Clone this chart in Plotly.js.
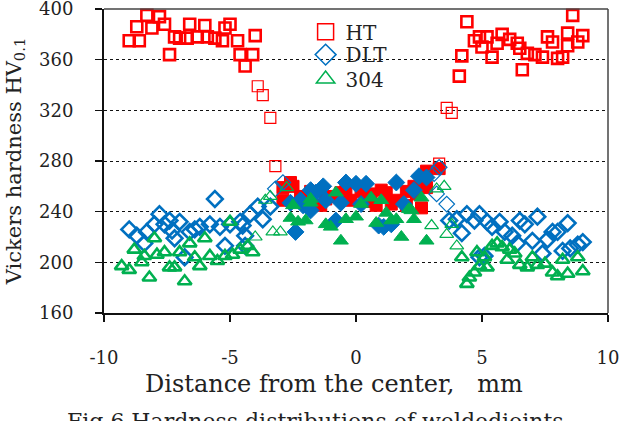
<!DOCTYPE html>
<html>
<head>
<meta charset="utf-8">
<script src="https://cdn.plot.ly/plotly-3.0.1.min.js"></script>
<style>html,body{margin:0;padding:0;background:#fff;}#chart{width:621px;height:421px;}</style>
</head>
<body>
<div id="chart"></div>
<script>
// ---- data ----
const seriesNames = ["HT", "DLT", "304"];

// HT: base metal (open squares)
const htOpenX = [-9.0,-8.7,-8.6,-8.3,-8.1,-7.8,-7.6,-7.4,-7.2,-7.0,-6.7,-6.6,-6.3,-6.0,-5.9,-5.6,-5.3,-5.2,-5.0,-4.7,-4.6,-4.4,-4.1,-4.0,
                 4.1,4.2,4.4,4.7,4.9,5.0,5.2,5.4,5.6,5.8,6.1,6.4,6.5,6.6,6.8,7.1,7.4,7.6,7.8,8.0,8.2,8.4,8.4,8.6,8.8,9.0];
const htOpenY = [375,386,375,395,385,394,388,364,378,377,377,388,378,387,378,377,375,385,388,375,364,355,364,379,
                 347,363,390,375,378,370,378,362,373,380,376,373,369,352,365,364,362,378,374,361,362,371,381,395,374,379];
// HT: HAZ (thin open squares)
const htHazX = [-3.9,-3.7,-3.4,-3.2,3.3,3.6,3.8];
const htHazY = [339,332,314,276,278,322,318];
// HT: weld metal (filled squares)
const htWeldX = [-2.9,-2.6,-2.5,-2.9,-2.2,-2.0,-1.8,-1.4,-1.2,-1.0,-0.6,-0.4,-0.2,0.2,0.4,0.6,0.8,1.0,1.2,1.4,1.6,2.0,2.0,2.3,2.4,2.6,2.8,2.8,3.3];
const htWeldY = [259,263,260,249,252,249,256,245,250,252,255,258,249,256,248,254,245,257,255,246,249,245,256,260,254,243,259,272,274];

// DLT
const dltOpenX = [-9.0,-8.7,-8.4,-8.3,-8.0,-7.8,-7.6,-7.4,-7.3,-7.2,-7.0,-6.8,-6.6,-6.4,-6.2,-5.8,-5.6,-5.4,-5.2,-5.0,-4.6,-4.5,-4.4,-4.4,-4.2,-3.9,-3.7,-3.4,
                  3.7,4.0,4.2,4.4,4.7,4.9,5.2,5.4,5.7,5.9,6.2,6.4,6.5,6.7,7.2,7.0,7.4,7.6,7.8,8.0,8.4,8.2,8.5,8.8,9.0,4.9,5.1];
const dltOpenY = [226,221,215,224,230,238,230,233,225,219,232,204,224,226,228,230,250,228,213,230,232,229,221,213,238,244,234,244,
                  233,234,223,238,233,238,232,228,232,224,221,215,233,230,236,217,207,218,224,224,231,209,211,214,216,204,205];
const dltHazX = [-3.2,-2.9,3.1,3.2,3.3,3.6];
const dltHazY = [258,263,270,254,275,246];
const dltWeldX = [-2.6,-2.4,-2.2,-2.1,-1.8,-1.8,-1.6,-1.3,-1.2,-0.8,-0.6,-0.4,0.0,0.2,0.4,0.9,1.1,1.4,1.6,1.9,2.3,2.5,2.8];
const dltWeldY = [247,224,249,245,241,257,255,260,249,233,247,263,262,246,262,229,228,230,263,246,257,268,267];

// 304
const s304OpenX = [-9.3,-9.0,-8.8,-8.5,-8.4,-8.2,-8.0,-7.9,-7.6,-7.4,-7.2,-7.0,-6.8,-6.6,-6.4,-6.2,-6.0,-5.8,-5.5,-5.2,-5.0,-4.9,-4.6,-4.3,-4.1,
                   4.2,4.4,4.5,4.7,4.8,4.9,5.1,5.2,5.4,5.6,5.8,6.0,6.1,6.3,6.5,6.8,7.0,7.2,7.5,7.8,8.0,8.2,8.4,8.8,9.0];
const s304OpenY = [197,194,210,200,205,188,219,206,208,196,196,208,185,215,204,197,219,205,201,205,232,206,210,213,208,
                   204,183,188,192,208,197,204,196,213,215,212,202,210,207,198,196,204,198,199,192,189,202,191,204,193];
const s304HazX = [-4.0,-3.6,-3.4,-3.3,-3.0,-2.75,3.0,3.2,3.5,3.6,3.8,4.0];
const s304HazY = [220,249,252,224,224,259,229,258,260,222,230,213];
const s304WeldX = [-2.6,-2.5,-2.3,-2.0,-1.8,-1.8,-1.2,-1.0,-0.8,-0.6,-0.4,0.0,0.2,0.6,0.8,1.0,1.2,1.4,1.6,1.8,2.1,2.2,2.3,2.6,2.8];
const s304WeldY = [235,245,232,233,250,247,230,228,255,217,234,236,246,251,231,249,239,233,234,220,242,241,234,251,217];

const xTicks = [-10,-5,0,5,10];
const yTicks = [160,200,240,280,320,360,400];
const xTitle = "Distance from the center,\u00a0\u00a0\u00a0mm";
const yTitle = "Vickers hardness HV<sub>0.1</sub>";
const caption = "Fig.6 Hardness distributions of weldedjoints";

// ---- styles ----
const RED = "#FF0000", BLUE = "#0070C0", GREEN = "#00B050";
const FONT = "DejaVu Serif, Liberation Serif, serif";
const TXT = "#222";

function pts(name, x, y, symbol, color, lw, size, legendId) {
  const t = {
    type: "scatter", mode: "markers", name: name, x: x, y: y,
    showlegend: !!legendId, cliponaxis: false,
    marker: { symbol: symbol, size: size, color: color, line: { color: color, width: lw } },
    hoverinfo: "x+y"
  };
  if (legendId) t.legend = legendId;
  return t;
}

const traces = [
  pts(seriesNames[0], htOpenX, htOpenY, "square-open", RED, 2.6, 11),
  pts(seriesNames[0], htHazX, htHazY, "square-open", RED, 1.2, 11),
  pts(seriesNames[0], htWeldX, htWeldY, "square", RED, 1, 12),
  pts(seriesNames[1], dltOpenX, dltOpenY, "diamond-open", BLUE, 2.6, 12),
  pts(seriesNames[1], dltHazX, dltHazY, "diamond-open", BLUE, 1.2, 12),
  pts(seriesNames[1], dltWeldX, dltWeldY, "diamond", BLUE, 1, 13),
  pts(seriesNames[2], s304OpenX, s304OpenY, "triangle-up-open", GREEN, 2.6, 12),
  pts(seriesNames[2], s304HazX, s304HazY, "triangle-up-open", GREEN, 1.2, 12),
  pts(seriesNames[2], s304WeldX, s304WeldY, "triangle-up", GREEN, 1, 13),
  // legend entries (one small legend each, to match the tight spacing)
  pts(seriesNames[0], [null], [null], "square-open", RED, 1.5, 16, "legend"),
  pts(seriesNames[1], [null], [null], "diamond-open", BLUE, 1.5, 16, "legend2"),
  pts(seriesNames[2], [null], [null], "triangle-up-open", GREEN, 1.5, 16, "legend3")
];

function leg(yPaper) {
  return { x: 0.40, y: yPaper, xanchor: "left", yanchor: "middle", bgcolor: "rgba(0,0,0,0)",
           font: { family: FONT, size: 20, color: TXT }, itemwidth: 30, borderwidth: 0 };
}

const layout = {
  width: 621, height: 421,
  margin: { l: 104, r: 13, t: 9, b: 108 },
  paper_bgcolor: "#fff", plot_bgcolor: "#fff",
  font: { family: FONT, size: 18, color: TXT },
  showlegend: true,
  legend: leg(0.925),
  legend2: leg(0.85),
  legend3: leg(0.77),
  xaxis: {
    range: [-10.001, 10.001], tickvals: xTicks, ticktext: xTicks.map(String),
    showgrid: false, zeroline: false,
    showline: true, linecolor: "#111", linewidth: 2,
    ticks: "outside", ticklen: 7, tickwidth: 1.5, tickcolor: "#111",
    ticklabelstandoff: 20, ticklabeloverflow: "allow",
    tickfont: { family: FONT, size: 18, color: TXT }
  },
  yaxis: {
    range: [159.99, 400.01], tickvals: yTicks, ticktext: yTicks.map(String),
    showgrid: true, gridcolor: "#111", gridwidth: 1, griddash: "dot",
    zeroline: false, showline: true, linecolor: "#111", linewidth: 2,
    ticks: "outside", ticklen: 7, tickwidth: 1.5, tickcolor: "#111",
    ticklabelstandoff: 18, ticklabeloverflow: "allow",
    tickfont: { family: FONT, size: 18, color: TXT },
    title: { text: yTitle, font: { family: FONT, size: 21, color: TXT }, standoff: 12 }
  },
  shapes: [
    { type: "line", xref: "paper", yref: "paper", x0: 0, x1: 1, y0: 1, y1: 1, line: { color: "#444", width: 1.5 } },
    { type: "line", xref: "paper", yref: "paper", x0: 1, x1: 1, y0: 0, y1: 1, line: { color: "#444", width: 1.5 } }
  ],
  annotations: [
    { xref: "paper", yref: "paper", x: 0.456, y: -0.235, xanchor: "center", yanchor: "middle", showarrow: false,
      text: xTitle, font: { family: FONT, size: 24, color: TXT } },
    { xref: "paper", yref: "paper", x: 0.42, y: -0.31, xanchor: "center", yanchor: "top", showarrow: false,
      text: caption, font: { family: FONT, size: 22, color: TXT } }
  ]
};

Plotly.newPlot("chart", traces, layout, { staticPlot: true, displayModeBar: false });
</script>
</body>
</html>
